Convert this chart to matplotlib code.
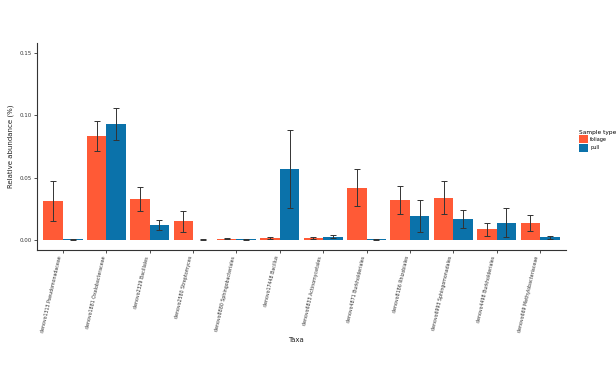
import numpy as np
import matplotlib.pyplot as plt

taxa = [
    "denovo1313 Pseudomonadaceae",
    "denovo1881 Oxalobacteraceae",
    "denovo2329 Bacillales",
    "denovo2580 Streptomyces",
    "denovo8880 Sphingobacteriales",
    "denovo17448 Bacillus",
    "denovo6833 Actinomycetales",
    "denovo4871 Burkholderiales",
    "denovo8186 Rhizobiales",
    "denovo6993 Sphingomonadales",
    "denovo4498 Burkholderiales",
    "denovo669 Methylobacteriaceae",
]
foliage = [0.031, 0.083, 0.033, 0.015, 0.001, 0.0015, 0.0015, 0.042, 0.032, 0.034, 0.0086, 0.0134]
foliage_err = [0.016, 0.012, 0.0095, 0.0083, 0.0005, 0.001, 0.0005, 0.0145, 0.011, 0.0135, 0.0053, 0.0063]
pull = [0.0005, 0.093, 0.012, 0.0002, 0.0005, 0.057, 0.0027, 0.0005, 0.019, 0.0166, 0.014, 0.002]
pull_err = [0.0003, 0.0125, 0.0043, 0.0002, 0.0003, 0.031, 0.001, 0.0003, 0.0128, 0.0073, 0.012, 0.0015]

c_fol = "#FF5A36"
c_pull = "#0B72AA"

fig = plt.figure(figsize=(6.16, 3.66), dpi=100)
ax = fig.add_axes([0.060, 0.317, 0.859, 0.566])

x = np.arange(len(taxa))
w = 0.45
err_kw = dict(ecolor="#333333", elinewidth=0.7, capsize=2, capthick=0.7)
ax.bar(x - w / 2, foliage, w, yerr=foliage_err, color=c_fol, label="foliage", error_kw=err_kw)
ax.bar(x + w / 2, pull, w, yerr=pull_err, color=c_pull, label="pull", error_kw=err_kw)

ax.set_xlim(-0.6, len(taxa) - 0.4)
ax.set_ylim(-0.008, 0.158)
ax.set_yticks([0.0, 0.05, 0.10, 0.15])
ax.set_yticklabels(["0.00", "0.05", "0.10", "0.15"], fontsize=4, color="#333333")
ax.set_xticks(x)
ax.set_xticklabels(taxa, rotation=77, ha="right", va="top", fontsize=3.4, color="#333333")
ax.tick_params(length=2, width=0.6, color="#333333", pad=2)

for s in ["top", "right"]:
    ax.spines[s].set_visible(False)
for s in ["left", "bottom"]:
    ax.spines[s].set_linewidth(0.8)
    ax.spines[s].set_color("#333333")

ax.set_ylabel("Relative abundance (%)", fontsize=5, color="#222222", labelpad=4)
ax.set_xlabel("Taxa", fontsize=5, color="#222222")
ax.xaxis.set_label_coords(0.49, -0.42)

leg = ax.legend(title="Sample type", loc="upper left", bbox_to_anchor=(1.02, 0.59),
                frameon=False, fontsize=3.6, title_fontsize=4.2,
                handlelength=1.8, handleheight=2.1, handletextpad=0.5,
                labelspacing=0.1, borderaxespad=0)
leg._legend_box.align = "left"

fig.savefig("out.png", dpi=100)
